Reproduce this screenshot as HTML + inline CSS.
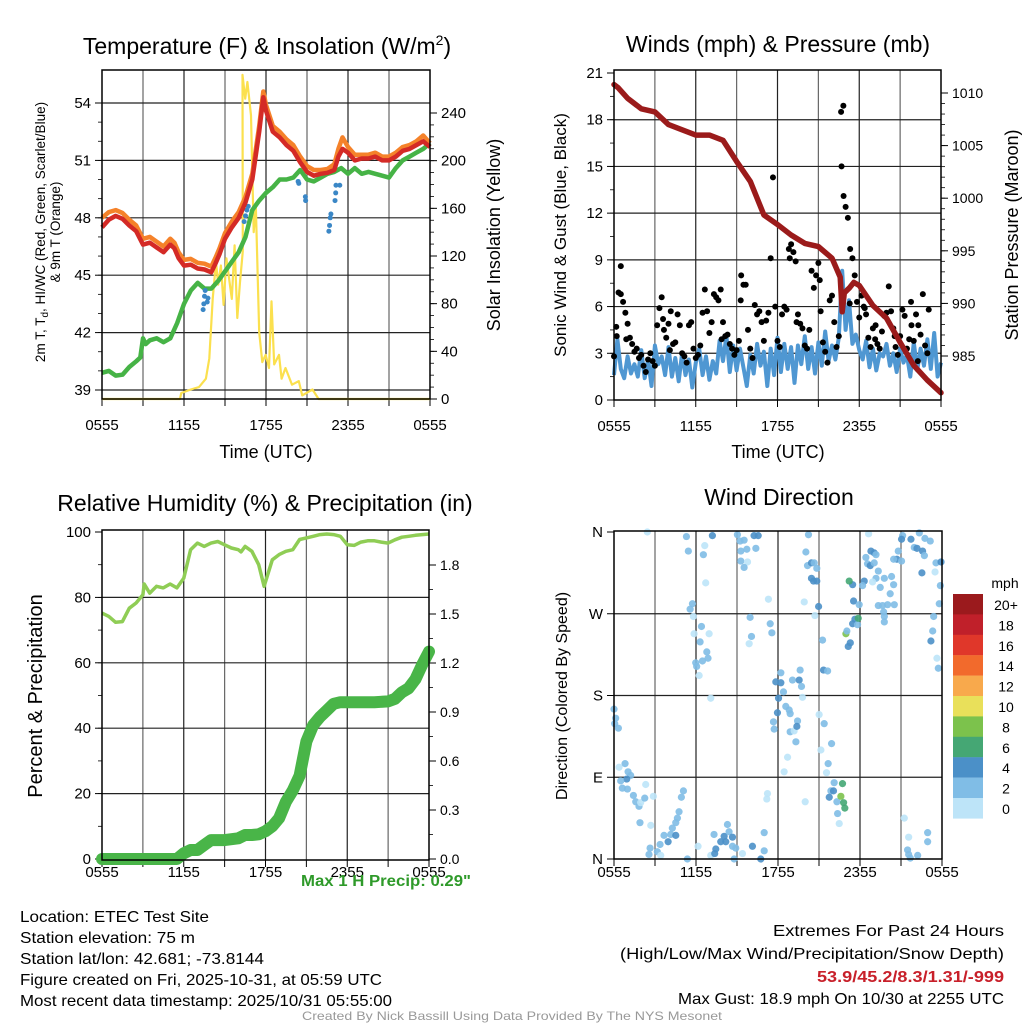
<!DOCTYPE html>
<html><head><meta charset="utf-8"><style>
html,body{margin:0;padding:0;background:#fff;}
svg{display:block;font-family:"Liberation Sans",Arial,sans-serif;}
</style></head><body>
<svg id="fig" width="1024" height="1024" viewBox="0 0 1024 1024" xmlns="http://www.w3.org/2000/svg">
<rect width="1024" height="1024" fill="#fff"/>
<g id="g1"></g>
<g id="g2"></g>
<g id="g3"></g>
<g id="g4"></g>

<text x="267" y="54" font-size="23" text-anchor="middle">Temperature (F) &amp; Insolation (W/m<tspan dy="-9" font-size="14">2</tspan><tspan dy="9">)</tspan></text>
<text x="778" y="52" font-size="23" text-anchor="middle">Winds (mph) &amp; Pressure (mb)</text>
<text x="265" y="511" font-size="23" text-anchor="middle">Relative Humidity (%) &amp; Precipitation (in)</text>
<text x="779" y="505" font-size="23" text-anchor="middle">Wind Direction</text>

<text x="266" y="458" font-size="18" text-anchor="middle">Time (UTC)</text>
<text x="778" y="458" font-size="18" text-anchor="middle">Time (UTC)</text>

<g transform="translate(45,232) rotate(-90)">
<text x="0" y="0" font-size="13.5" text-anchor="middle">2m T, T<tspan dy="3" font-size="10">d</tspan><tspan dy="-3">, HI/WC (Red, Green, Scarlet/Blue)</tspan></text>
<text x="0" y="15" font-size="13.5" text-anchor="middle">&amp; 9m T (Orange)</text>
</g>
<text transform="translate(500,235) rotate(-90)" font-size="18" text-anchor="middle">Solar Insolation (Yellow)</text>
<text transform="translate(566,235) rotate(-90)" font-size="17" text-anchor="middle">Sonic Wind &amp; Gust (Blue, Black)</text>
<text transform="translate(1018,235) rotate(-90)" font-size="18" text-anchor="middle">Station Pressure (Maroon)</text>
<text transform="translate(42,696) rotate(-90)" font-size="20" text-anchor="middle">Percent &amp; Precipitation</text>
<text transform="translate(567,696) rotate(-90)" font-size="16" text-anchor="middle">Direction (Colored By Speed)</text>

<text x="471" y="886" font-size="16" font-weight="bold" fill="#2f9a2a" text-anchor="end" textLength="170" lengthAdjust="spacingAndGlyphs">Max 1 H Precip: 0.29"</text>

<g font-size="16">
<text x="20" y="922" textLength="189" lengthAdjust="spacingAndGlyphs">Location: ETEC Test Site</text>
<text x="20" y="943" textLength="175" lengthAdjust="spacingAndGlyphs">Station elevation: 75 m</text>
<text x="20" y="964" textLength="244" lengthAdjust="spacingAndGlyphs">Station lat/lon: 42.681; -73.8144</text>
<text x="20" y="985" textLength="362" lengthAdjust="spacingAndGlyphs">Figure created on Fri, 2025-10-31, at 05:59 UTC</text>
<text x="20" y="1006" textLength="372" lengthAdjust="spacingAndGlyphs">Most recent data timestamp: 2025/10/31 05:55:00</text>
</g>
<g font-size="16" text-anchor="end">
<text x="1004" y="936" textLength="231" lengthAdjust="spacingAndGlyphs">Extremes For Past 24 Hours</text>
<text x="1004" y="959" textLength="384" lengthAdjust="spacingAndGlyphs">(High/Low/Max Wind/Precipitation/Snow Depth)</text>
<text x="1004" y="982" font-weight="bold" fill="#c8202a" textLength="187" lengthAdjust="spacingAndGlyphs">53.9/45.2/8.3/1.31/-999</text>
<text x="1004" y="1004" textLength="326" lengthAdjust="spacingAndGlyphs">Max Gust: 18.9 mph On 10/30 at 2255 UTC</text>
</g>
<text x="512" y="1020" font-size="12" fill="#999" text-anchor="middle" textLength="420" lengthAdjust="spacingAndGlyphs">Created By Nick Bassill Using Data Provided By The NYS Mesonet</text>
</svg>
<script>
// ---------- data ----------
const xTickHours = [0, 6, 12, 18, 24];
const xTickLabels = ["0555", "1155", "1755", "2355", "0555"];

const tempTicks = [39, 42, 45, 48, 51, 54];
const solarTicks = [0, 40, 80, 120, 160, 200, 240];
const tempHours = [0,0.5,1,1.5,2,2.5,3,3.5,4,4.5,5,5.3,5.6,6,6.5,7,7.5,8,8.3,8.6,9,9.5,10,10.5,11,11.5,11.8,12,12.5,13,13.5,14,14.5,15,15.5,16,16.5,17,17.3,17.6,18,18.5,19,19.5,20,20.5,21,21.5,22,22.5,23,23.5,24];
const temp2m = [47.5,47.9,48.1,47.95,47.6,47.3,46.6,46.7,46.45,46.2,46.6,46.4,45.9,45.5,45.55,45.35,45.3,45.15,45.6,46.1,46.9,47.5,48.0,48.8,50.0,52.5,54.3,53.6,52.5,52.2,51.8,51.5,50.9,50.4,50.2,50.3,50.35,50.5,51.2,51.6,51.4,51.0,51.1,51.1,51.2,51.0,51.0,51.2,51.5,51.6,51.8,52.0,51.7];
const temp9m = [48.0,48.3,48.4,48.25,47.9,47.6,46.9,47.0,46.75,46.5,46.9,46.7,46.2,45.8,45.85,45.65,45.6,45.45,45.9,46.4,47.2,47.8,48.3,49.1,50.3,52.8,54.6,53.9,52.8,52.5,52.1,51.8,51.2,50.7,50.5,50.5,50.55,50.8,51.6,52.2,51.7,51.3,51.3,51.3,51.4,51.2,51.2,51.4,51.7,51.8,52.0,52.3,51.9];
const dewHours = [0,0.5,1,1.5,2,2.5,2.8,3,3.2,3.5,4,4.5,5,5.5,6,6.5,7,7.5,8,8.5,9,9.5,10,10.5,11,11.5,12,12.5,13,13.5,14,14.5,15,15.5,16,16.5,17,17.5,18,18.5,19,19.5,20,20.5,21,21.5,22,22.5,23,23.5,24];
const dewpoint = [39.9,40.0,39.75,39.8,40.2,40.5,40.7,41.7,41.4,41.6,41.7,41.5,41.7,42.5,43.5,44.2,44.6,44.3,44.3,44.7,45.2,45.7,46.2,47.0,48.4,48.9,49.3,49.6,50.0,50.0,50.1,50.5,50.0,49.9,50.1,50.3,50.4,50.6,50.3,50.6,50.3,50.4,50.3,50.2,50.1,50.6,51.0,51.2,51.4,51.6,51.9];
const chillHours = [7.4,7.45,7.5,7.55,7.7,7.75,10.4,10.5,10.6,10.7,14.35,14.4,14.88,14.9,16.6,16.65,16.7,16.75,17.05,17.1,17.12,17.4];
const chillTemps = [43.2,43.5,43.9,44.2,43.6,43.8,47.8,48.1,48.4,48.6,49.9,49.8,49.1,48.9,47.3,47.6,48.0,48.2,48.9,49.3,49.7,49.7];
const solarHours = [0,5.7,5.8,6.5,7.1,7.6,7.85,8.1,8.34,8.5,8.7,8.9,9.1,9.5,9.7,9.9,10.1,10.3,10.28,10.48,10.64,10.9,11.1,11.25,11.5,11.73,11.97,12.22,12.4,12.6,12.95,13.14,13.43,13.9,14.4,14.65,15.4,15.85,24];
const solarValues = [0,0,5,8,10,17,34,84,115,96,112,79,118,84,129,68,98,124,272,252,266,238,140,163,56,31,37,26,82,29,37,17,26,12,15,3,8,0,0];

const windTicks = [0, 3, 6, 9, 12, 15, 18, 21];
const presTicks = [985, 990, 995, 1000, 1005, 1010];
const presHours = [0,0.3,1,2,3,4,5,6,7,8,9,10,11,12,13,14,15,16,16.6,16.75,16.9,17.3,17.6,18,19,20,21,22,23,24];
const pressure = [1010.8,1010.5,1009.5,1008.5,1008.2,1007,1006.5,1006,1006,1005.5,1003.5,1001.6,998.4,997.5,996.5,995.7,995.4,994.3,992.5,989.2,991.0,991.5,992.0,991.7,989.8,988.6,986.3,984.1,982.7,981.5];
const sonicWind = [1.6,3.9,2.0,1.4, 2.8,1.7,2.3,1.5, 3.2,1.4,2.6,0.9, 3.5,2.3,2.8,1.6, 3.4,1.5,2.7,1.2, 3.0,1.6,2.6,0.8, 2.4,3.3,1.6,2.8, 1.3,2.5,1.7,3.8, 2.5,4.1,1.8,3.5, 1.9,3.3,2.1,0.9, 2.9,1.7,3.6,2.2, 3.1,0.9,3.3,1.6, 4.0,1.8,3.6,2.0, 3.4,1.1,3.5,2.3, 4.1,2.0,3.4,1.7, 3.7,2.2,4.4,2.5, 3.5,2.6,4.0,8.3, 4.5,6.4,3.6,4.2, 3.2,2.6,3.8,2.1, 3.3,1.9,3.0,2.8, 3.6,2.2,3.0,1.8, 3.3,2.4,2.9,1.5, 3.7,1.9,3.3,2.2, 3.9,2.0,4.3,1.5, 2.4];
const gusts = [2.8,4.7,6.9,8.6,6.3,5.6, 4.9,4.0,3.6,3.1,3.3,2.7, 2.9,2.2,1.8,2.6,3.0,2.5, 2.2,4.8,5.9,6.6,4.5,4.0, 4.9,5.7,3.6,3.7,5.5,4.8, 3.0,2.8,2.4,4.8,5.0,3.3, 2.7,2.9,3.5,5.6,7.1,5.7, 4.3,5.0,6.8,6.6,6.4,7.1, 5.0,4.1,4.2,3.6,3.3,2.9, 3.2,3.8,8.0,7.4,7.4,4.5, 3.3,2.7,6.1,5.5,5.7,5.0, 3.8,5.1,5.6,9.1,14.3,6.0, 3.8,3.4,5.5,6.0,5.8,9.7, 10.0,9.5,8.9,5.5,4.9,4.6, 3.5,3.3,4.5,8.3,7.2,8.0, 8.8,5.7,3.7,3.1,2.4,6.4, 6.7,5.0,3.4,4.1,18.5,18.9, 12.4,11.7,9.7,9.1,8.0,6.3, 5.3,6.7,6.0,5.5,4.0,3.4, 4.6,3.9,3.6,3.3,4.4,5.4, 5.6,7.3,5.7,4.6,3.4,2.9, 4.1,5.8,5.4,3.3,3.9,4.8, 3.8,5.5,4.8,4.2,6.8,3.5, 3.0];
const extraGustHours = [0.2,0.5,0.9,3.6,4.1,7.9,9.3,12.9,13.4,15.1,16.7,16.85,17.3,18.4,19.2,20.6,21.8,22.3,23.1];
const extraGusts = [4.1,6.8,3.9,5.2,3.2,3.9,6.4,9.1,5.0,7.7,15.0,13.1,6.2,5.9,4.8,4.1,6.3,2.5,5.8];

const rhTicks = [0, 20, 40, 60, 80, 100];
const precipTicks = [0.0, 0.3, 0.6, 0.9, 1.2, 1.5, 1.8];
const precipTickLabels = ["0.0","0.3","0.6","0.9","1.2","1.5","1.8"];
const rhHours = [0,0.5,1,1.5,2,2.5,3,3.1,3.5,4,4.5,5,5.5,6,6.5,7,7.5,8,8.5,9,9.5,10,10.2,10.5,11,11.5,11.9,12.5,13,13.5,14,14.5,15,15.5,16,16.5,17,17.5,18,18.5,19,19.5,20,20.5,21,21.5,22,22.5,23,24];
const rhValues = [75.2,74.2,72.4,72.6,76.7,78.3,80.8,84.1,81.3,83.4,82.9,84.1,82.9,85.9,94.6,96.6,95.6,96.6,97.1,96.1,95.1,94.6,93.9,95.6,94.1,90.0,83.4,91.5,93.1,94.1,94.6,97.7,98.2,98.7,99.2,99.4,99.2,98.7,96.1,95.9,96.9,97.3,97.3,96.9,96.6,97.6,98.4,98.7,99.0,99.4];
const precipHours = [0,5.5,6,6.5,7,7.5,8,9,10,10.5,11,11.5,12,12.5,13,13.5,14,14.5,15,15.5,16,16.5,17,17.5,20,21,21.5,22,22.5,23,23.5,24];
const precipValues = [0,0,0.035,0.055,0.055,0.086,0.116,0.116,0.127,0.147,0.147,0.151,0.17,0.2,0.25,0.35,0.42,0.51,0.72,0.82,0.87,0.91,0.95,0.96,0.96,0.965,0.98,1.02,1.045,1.1,1.19,1.27];

const dirTicks = [0, 90, 180, 270, 360];
const dirTickLabels = ["N", "E", "S", "W", "N"];
const dirHours = [2.44,5.30,5.44,6.64,6.54,6.71,7.20,5.74,5.57,5.81,6.40,5.86,6.96,6.30,6.79,6.88,6.47,5.98,6.05,6.23,7.08,9.03,9.23,9.52,10.25,10.55,10.38,9.72,9.28,9.28,9.77,9.52,11.30,9.96,10.06,9.89,11.43,11.55,14.23,14.04,14.16,14.45,14.65,14.84,14.45,14.60,14.84,13.92,14.97,14.70,15.26,15.33,15.63,12.21,11.84,12.21,12.40,12.04,12.57,12.82,12.89,11.96,11.67,11.72,12.89,13.18,13.43,13.38,13.31,12.70,12.45,13.06,13.55,13.72,13.62,13.79,15.01,15.38,15.92,15.14,15.67,15.55,0.0,0.12,0.05,0.32,0.37,0.81,1.03,1.22,0.93,0.49,0.61,0.98,1.42,1.59,1.83,1.95,2.25,2.32,2.88,1.90,2.69,5.08,4.93,4.76,4.64,4.52,4.27,4.15,3.66,3.96,4.52,3.37,3.17,2.64,2.56,3.42,5.37,6.15,7.08,7.32,7.45,7.37,7.81,8.06,8.30,8.42,8.18,8.67,8.67,8.91,8.79,9.40,10.13,10.74,10.99,10.99,11.23,11.18,13.99,16.11,16.72,15.87,16.06,15.75,16.31,16.60,16.80,16.89,16.36,16.48,17.46,17.21,17.53,17.94,17.63,17.46,17.82,17.87,16.97,17.29,17.14,17.04,18.63,18.80,19.04,19.17,18.43,18.55,18.75,19.04,19.34,19.17,18.92,18.31,18.19,19.48,19.78,20.31,20.46,20.21,19.34,19.65,20.02,20.51,19.73,19.78,19.78,21.12,21.04,21.73,22.34,22.75,23.14,21.97,22.17,22.58,22.71,20.80,20.70,20.46,21.04,23.56,23.93,22.53,23.49,23.88,23.80,23.39,23.32,23.19,23.63,23.73,21.24,21.56,22.95,22.95,21.48,21.56,22.22,21.68];
const dirDegrees = [360,355,339,345,335,304,356,281,275,267,256,248,248,239,228,221,218,216,212,202,177,357,350,351,356,356,342,341,339,328,327,321,286,266,245,237,259,249,357,338,323,326,326,320,309,306,306,283,278,268,241,208,207,205,195,194,184,177,168,164,160,161,151,143,140,141,152,146,129,112,96,197,197,190,208,178,159,149,127,120,105,95,165,155,149,144,101,105,96,92,88,86,78,77,70,63,58,62,67,82,69,40,37,75,68,52,45,40,34,27,26,19,26,16,8,12,5,4,0,14,4,27,11,6,19,25,38,30,19,24,14,12,0,6,14,0,9,29,72,66,63,84,83,75,75,68,63,69,62,56,50,39,302,306,284,280,264,259,258,265,248,238,234,251,358,339,337,335,332,325,323,326,317,309,305,306,301,299,309,311,302,292,279,279,280,280,272,267,261,356,352,352,359,353,350,343,342,339,334,339,330,330,328,326,327,315,316,301,281,267,251,240,221,210,45,24,29,19,10,5,4,1];
const dirSpeeds = [1,2.5,2.5,1,2.5,1,4,2.5,2.5,1,2.5,1,1,2.5,2.5,2.5,2.5,2.5,2.5,1,1,2.5,2.5,2.5,4,4,2.5,2.5,2.5,2.5,1,2.5,1,2.5,2.5,1,2.5,2.5,2.5,2.5,2.5,4,2.5,2.5,4,4,4,1,4,1,2.5,4,2.5,2.5,4,4,2.5,4,2.5,2.5,2.5,4,2.5,2.5,2.5,1,2.5,4,2.5,1,1,2.5,4,2.5,2.5,1,1,2.5,2.5,1,2.5,1,2.5,2.5,2.5,2.5,1,2.5,2.5,2.5,4,2.5,2.5,2.5,2.5,2.5,2.5,1,2.5,1,1,2.5,1,2.5,2.5,2.5,2.5,2.5,2.5,2.5,2.5,4,4,2.5,2.5,2.5,2.5,1,2.5,1,1,2.5,4,4,4,4,2.5,2.5,4,4,2.5,2.5,2.5,1,4,4,2.5,2.5,1,1,1,2.5,6,2.5,4,4,2.5,8,6,6,2.5,1,4,6,4,2.5,4,4,2.5,6,8,4,4,2.5,1,4,4,2.5,2.5,2.5,4,2.5,2.5,2.5,1,4,2.5,2.5,2.5,2.5,2.5,2.5,2.5,2.5,2.5,2.5,2.5,2.5,2.5,2.5,4,4,2.5,2.5,2.5,2.5,4,4,2.5,2.5,4,2.5,2.5,2.5,4,4,1,2.5,2.5,2.5,2.5,4,1,2.5,1,1,2.5,2.5,2.5,2.5,2.5,2.5,2.5];
const cbarLabels = ["20+","18","16","14","12","10","8","6","4","2","0"];
const cbarColors = ["#9b1a1d","#c0202a","#e0372a","#f26a2c","#f8a94c","#e9e05a","#7cc24c","#45a774","#4b90c8","#80bde6","#bde4f8"];

// ---------- helpers ----------
const NS = "http://www.w3.org/2000/svg";
function mk(parent, tag, attrs) {
  const e = document.createElementNS(NS, tag);
  for (const k in attrs) e.setAttribute(k, attrs[k]);
  parent.appendChild(e);
  return e;
}
function linScale(d0, d1, r0, r1) { return v => r0 + (v - d0) / (d1 - d0) * (r1 - r0); }
function pathFrom(xs, ys, fx, fy) {
  return xs.map((x, i) => (i ? "L" : "M") + fx(x).toFixed(1) + "," + fy(ys[i]).toFixed(1)).join("");
}

function frame(g, x0, x1, y0, y1, fx, labOff) {
  for (let h = 3; h < 24; h += 3) {
    const l = mk(g, "line", {x1: fx(h), x2: fx(h), y1: y0, y2: y1, stroke: (h % 6 === 0 ? "#222" : "#666"), "stroke-width": 1.2});
    
    
  }
  for (let h = 0; h <= 24; h += 3) {
    const t = mk(g, "line", {x1: fx(h), x2: fx(h), y1: y1, y2: y1 + 7, stroke: "#000", "stroke-width": 1});
    
    
  }
  xTickHours.forEach((h, i) => {
    const t = mk(g, "text", {x: fx(h), y: y1 + labOff, "font-size": 15, "text-anchor": "middle"});
    t.textContent = xTickLabels[i];
    
    
  });
}
function border(g, x0, x1, y0, y1) {
  const r = mk(g, "rect", {x: x0, y: y0, width: x1 - x0, height: y1 - y0, fill: "none", stroke: "#000", "stroke-width": 1.5});
  
  
}
function hGrid(g, x0, x1, ticks, fy, skip) {
  ticks.forEach(v => {
    if (skip.indexOf(v) >= 0) return;
    const l = mk(g, "line", {x1: x0, x2: x1, y1: fy(v), y2: fy(v), stroke: "#222", "stroke-width": 1.2});
    
    
  });
}
function yAxis(g, x, ticks, labels, fy, side, minorStep, fs) {
  const dir = side === "left" ? -1 : 1;
  ticks.forEach((v, i) => {
    const t = mk(g, "line", {x1: x, x2: x + dir * 7, y1: fy(v), y2: fy(v), stroke: "#000", "stroke-width": 1});
    
    
    const tx = mk(g, "text", {x: x + dir * 11, y: fy(v) + 5, "font-size": fs, "text-anchor": side === "left" ? "end" : "start"});
    tx.textContent = labels[i];
    
    
  });
  if (minorStep) {
    for (let v = ticks[0]; v <= ticks[ticks.length - 1] + 1e-9; v += minorStep) {
      const m = mk(g, "line", {x1: x, x2: x + dir * 4, y1: fy(v), y2: fy(v), stroke: "#000", "stroke-width": 0.8});
      
      
    }
  }
}

// ---------- panel 1: temperature ----------
(function () {
  const g = document.getElementById("g1");
  const x0 = 102, x1 = 430, y0 = 70, y1 = 399;
  const fx = linScale(0, 24, x0, x1);
  const fy = linScale(39, 54, 390, 103);
  const fs = linScale(0, 240, 399, 113);
  frame(g, x0, x1, y0, y1, fx, 31);
  hGrid(g, x0, x1, tempTicks, fy, []);
  yAxis(g, x0, tempTicks, tempTicks.map(String), fy, "left", 1, 15);
  yAxis(g, x1, solarTicks, solarTicks.map(String), fs, "right", 10, 15);
  const sol = mk(g, "path", {d: pathFrom(solarHours, solarValues, fx, fs), fill: "none", stroke: "#fbe04e", "stroke-width": 2.2, "stroke-linejoin": "round"});
  
  
  const dew = mk(g, "path", {d: pathFrom(dewHours, dewpoint, fx, fy), fill: "none", stroke: "#46b346", "stroke-width": 4.5, "stroke-linejoin": "round"});
  
  
  chillHours.forEach((h, i) => {
    const c = mk(g, "circle", {cx: fx(h), cy: fy(chillTemps[i]), r: 2.5, fill: "#3b87c6"});
    
    
  });
  const o = mk(g, "path", {d: pathFrom(tempHours, temp9m, fx, fy), fill: "none", stroke: "#f5822a", "stroke-width": 4.5, "stroke-linejoin": "round"});
  
  
  const r = mk(g, "path", {d: pathFrom(tempHours, temp2m, fx, fy), fill: "none", stroke: "#d42a26", "stroke-width": 4.5, "stroke-linejoin": "round"});
  
  
  border(g, x0, x1, y0, y1);
})();

// ---------- panel 2: winds ----------
(function () {
  const g = document.getElementById("g2");
  const x0 = 614, x1 = 941, y0 = 70, y1 = 400;
  const fx = linScale(0, 24, x0, x1);
  const fy = linScale(0, 21, 400, 73);
  const fp = linScale(1010, 985, 93, 356);
  frame(g, x0, x1, y0, y1, fx, 31);
  hGrid(g, x0, x1, windTicks, fy, [0, 21]);
  yAxis(g, x0, windTicks, windTicks.map(String), fy, "left", 1.5, 15);
  yAxis(g, x1, presTicks, presTicks.map(String), fp, "right", 1, 14);
  const windHours = sonicWind.map((v, i) => i * 0.25);
  const w = mk(g, "path", {d: pathFrom(windHours, sonicWind, fx, fy), fill: "none", stroke: "#4f97d2", "stroke-width": 4, "stroke-linejoin": "round"});
  
  
  gusts.forEach((v, i) => {
    const c = mk(g, "circle", {cx: fx(i / 6), cy: fy(v), r: 3, fill: "#000"});
    
    
  });
  extraGusts.forEach((v, i) => {
    const c = mk(g, "circle", {cx: fx(extraGustHours[i]), cy: fy(v), r: 3, fill: "#000"});
    
    
  });
  const p = mk(g, "path", {d: pathFrom(presHours, pressure, fx, fp), fill: "none", stroke: "#9b1b1b", "stroke-width": 5.5, "stroke-linejoin": "round", "stroke-linecap": "round"});
  
  
  border(g, x0, x1, y0, y1);
})();

// ---------- panel 3: RH & precip ----------
(function () {
  const g = document.getElementById("g3");
  const x0 = 102, x1 = 429, y0 = 530, y1 = 860;
  const fx = linScale(0, 24, x0, x1);
  const fy = linScale(0, 100, 859, 532);
  const fp = linScale(0, 1.8, 859, 565);
  frame(g, x0, x1, y0, y1, fx, 17);
  hGrid(g, x0, x1, rhTicks, fy, [0, 100]);
  yAxis(g, x0, rhTicks, rhTicks.map(String), fy, "left", 10, 15);
  yAxis(g, x1, precipTicks, precipTickLabels, fp, "right", 0.15, 14);
  const rh = mk(g, "path", {d: pathFrom(rhHours, rhValues, fx, fy), fill: "none", stroke: "#8fcd55", "stroke-width": 3.5, "stroke-linejoin": "round"});
  
  
  const pr = mk(g, "path", {d: pathFrom(precipHours, precipValues, fx, fp), fill: "none", stroke: "#49b548", "stroke-width": 12, "stroke-linejoin": "round", "stroke-linecap": "round"});
  
  
  border(g, x0, x1, y0, y1);
})();

// ---------- panel 4: wind direction ----------
(function () {
  const g = document.getElementById("g4");
  const x0 = 614, x1 = 942, y0 = 531, y1 = 859;
  const fx = linScale(0, 24, x0, x1);
  const fy = linScale(0, 360, 859, 532);
  frame(g, x0, x1, y0, y1, fx, 18);
  hGrid(g, x0, x1, dirTicks, fy, [0, 360]);
  yAxis(g, x0, dirTicks, dirTickLabels, fy, "left", 0, 15);
  function col(s) {
    const idx = Math.min(10, Math.floor(s / 2));
    return cbarColors[10 - idx];
  }
  dirHours.forEach((h, i) => {
    const c = mk(g, "circle", {cx: fx(h), cy: fy(dirDegrees[i]), r: 3.6, fill: col(dirSpeeds[i]), "fill-opacity": 0.9});
    
    
  });
  border(g, x0, x1, y0, y1);
  const cb = mk(g, "g", {});
  
  
  const unit = mk(cb, "text", {x: 1005, y: 588, "font-size": 14, "text-anchor": "middle"});
  unit.textContent = "mph";
  
  
  cbarLabels.forEach((lab, i) => {
    const y = 594 + i * 20.4;
    const r = mk(cb, "rect", {x: 953, y: y, width: 30, height: 20.6, fill: cbarColors[i]});
    
    
    const t = mk(cb, "text", {x: 1006, y: y + 16, "font-size": 14, "text-anchor": "middle"});
    t.textContent = lab;
    
    
  });
})();
</script>
</body></html>
